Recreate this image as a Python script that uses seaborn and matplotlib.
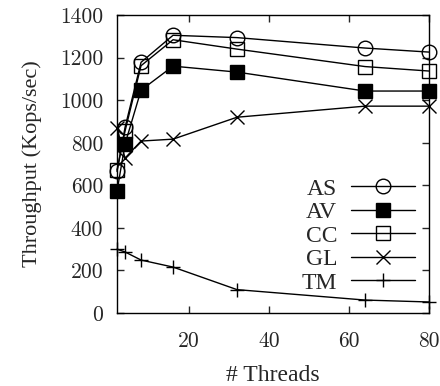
import matplotlib

matplotlib.use("Agg")
import matplotlib.pyplot as plt
import pandas as pd
import seaborn as sns

# --- Data ---
threads = [2, 4, 8, 16, 32, 64, 80]
as_vals = [665, 872, 1178, 1305, 1294, 1245, 1226]
av_vals = [573, 794, 1047, 1160, 1132, 1043, 1043]
cc_vals = [672, 855, 1162, 1284, 1240, 1158, 1137]
gl_vals = [869, 728, 808, 817, 920, 972, 972]
tm_vals = [300, 287, 249, 216, 110, 61, 52]

series_names = ["AS", "AV", "CC", "GL", "TM"]
series_vals = [as_vals, av_vals, cc_vals, gl_vals, tm_vals]

# marker, face colour per series
marker_styles = {
    "AS": ("o", "none"),
    "AV": ("s", "black"),
    "CC": ("s", "none"),
    "GL": ("x", "black"),
    "TM": ("+", "black"),
}


def make_plot():
    sns.set_style("ticks")
    plt.rcParams["xtick.direction"] = "in"
    plt.rcParams["ytick.direction"] = "in"
    plt.rcParams["font.family"] = ["Liberation Serif", "DejaVu Serif"]

    rows = []
    for name, vals in zip(series_names, series_vals):
        for t, v in zip(threads, vals):
            rows.append({"threads": t, "throughput": v, "series": name})
    df = pd.DataFrame(rows)

    fig = plt.figure(figsize=(4.4, 3.86), dpi=100)
    ax = fig.add_axes([0.266, 0.189, 0.709, 0.772])

    for name in series_names:
        marker, face = marker_styles[name]
        sub = df[df["series"] == name]
        sns.lineplot(
            data=sub,
            x="threads",
            y="throughput",
            color="black",
            linewidth=1.0,
            marker=marker,
            markersize=10.5,
            markerfacecolor=face,
            markeredgecolor="black",
            markeredgewidth=1.0,
            label=name,
            clip_on=False,
            zorder=3,
            ax=ax,
        )

    ax.set_xlim(2, 80)
    ax.set_ylim(0, 1400)
    ax.set_xticks([20, 40, 60, 80])
    ax.set_yticks(range(0, 1401, 200))
    ax.tick_params(top=True, right=True, length=5, width=1, labelsize=15.5)
    ax.tick_params(axis="y", pad=10)
    ax.tick_params(axis="x", pad=13)
    for lbl in ax.get_xticklabels() + ax.get_yticklabels():
        lbl.set_fontfamily("cmr10")
    for sp in ax.spines.values():
        sp.set_visible(True)
        sp.set_linewidth(1.0)
        sp.set_color("black")

    ax.set_xlabel("# Threads", fontsize=17, labelpad=10)
    ax.set_ylabel("Throughput (Kops/sec)", fontsize=16, labelpad=13)

    leg = ax.legend(
        loc="lower right",
        bbox_to_anchor=(0.955, 0.065),
        frameon=False,
        markerfirst=False,
        fontsize=17,
        handlelength=2.7,
        labelspacing=0.085,
        handletextpad=0.6,
        borderaxespad=0,
        borderpad=0,
    )
    for t in leg.get_texts():
        t.set_ha("right")

    fig.savefig("out.png", dpi=100)


if __name__ == "__main__":
    make_plot()
